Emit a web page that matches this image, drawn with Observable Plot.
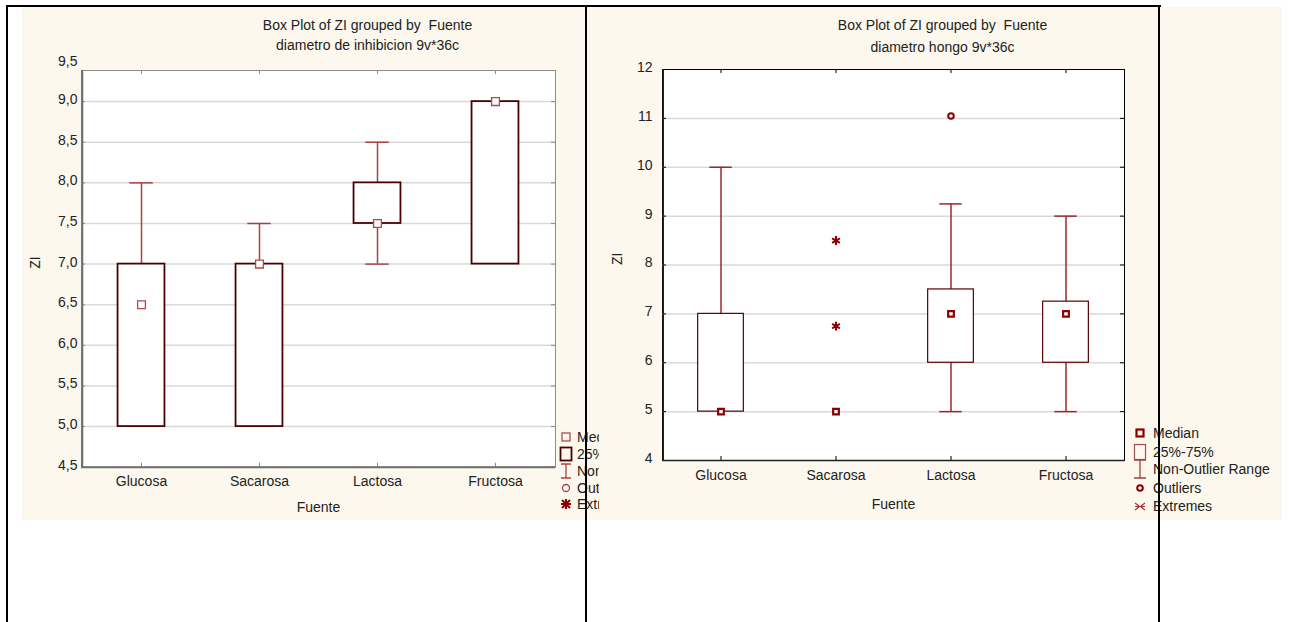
<!DOCTYPE html>
<html>
<head>
<meta charset="utf-8">
<script src="https://cdn.jsdelivr.net/npm/d3@7"></script>
<script src="https://cdn.jsdelivr.net/npm/@observablehq/plot@0.6"></script>
<style>
  body { margin: 0; background: #ffffff; }
  #root { position: relative; width: 1289px; height: 622px; overflow: hidden; font-family: "Liberation Sans", Arial, Helvetica, sans-serif; }
  .panel { position: absolute; top: 8px; height: 512px; overflow: hidden; }
  .panel svg { position: absolute; left: 0; top: 0; }
  .leg { position: absolute; font-size: 14px; color: #222; white-space: pre; line-height: 16px; }
  .legicon { position: absolute; }
  .bl { position: absolute; background: #000; z-index: 10; }
</style>
</head>
<body>
<div id="root">
  <div style="position:absolute;left:22px;top:7px;width:1260px;height:513px;background:#fdf8ed"></div>
  <div id="right" class="panel" style="left:586px;width:696px;"></div>
  <div id="left" class="panel" style="left:22px;width:577px;"></div>
  <div class="bl" style="left:6px;top:5px;width:1155px;height:2px"></div>
  <div class="bl" style="left:6px;top:5px;width:2px;height:617px"></div>
  <div class="bl" style="left:585px;top:5px;width:2px;height:617px"></div>
  <div class="bl" style="left:1158px;top:5px;width:2px;height:617px"></div>
</div>
<script>
// ---------- data ----------
const categories = ["Glucosa", "Sacarosa", "Lactosa", "Fructosa"];

// Left chart: diametro de inhibicion
const inhibMin    = [5.0, 5.0, 7.0, 7.0];
const inhibQ1     = [5.0, 5.0, 7.5, 7.0];
const inhibMedian = [6.5, 7.0, 7.5, 9.0];
const inhibQ3     = [7.0, 7.0, 8.0, 9.0];
const inhibMax    = [8.0, 7.5, 8.5, 9.0];
const inhibTicks  = [4.5, 5.0, 5.5, 6.0, 6.5, 7.0, 7.5, 8.0, 8.5, 9.0, 9.5];

// Right chart: diametro hongo
const hongoMin    = [5, 5, 5, 5];
const hongoQ1     = [5, 5, 6, 6];
const hongoMedian = [5, 5, 7, 7];
const hongoQ3     = [7, 5, 7.5, 7.25];
const hongoMax    = [10, 5, 9.25, 9];
const hongoOutlierCat = ["Lactosa"];
const hongoOutlierVal = [11.05];
const hongoExtremeCat = ["Sacarosa", "Sacarosa"];
const hongoExtremeVal = [8.5, 6.75];
const hongoTicks  = [4, 5, 6, 7, 8, 9, 10, 11, 12];

const titleMain = "Box Plot of ZI grouped by  Fuente";
const subLeft = "diametro de inhibicion 9v*36c";
const subRight = "diametro hongo 9v*36c";
const legendLabels = ["Median", "25%-75%", "Non-Outlier Range", "Outliers", "Extremes"];

// ---------- helpers ----------
const FONT = '"Liberation Sans", Arial, Helvetica, sans-serif';
const rows = (mn, q1, md, q3, mx) => categories.map((c, i) => ({cat: c, min: mn[i], q1: q1[i], med: md[i], q3: q3[i], max: mx[i]}));
const commaFmt = d => d.toFixed(1).replace(".", ",");

function boxChart(opt) {
  const plotW = opt.w - opt.ml - opt.mr;
  const plotH = opt.h - opt.mt - opt.mb;
  const band = plotW / categories.length;
  const boxInset = band * 0.3;
  const capInset = (band - opt.capW) / 2;
  const data = opt.data;
  const lo = opt.ticks[0], hi = opt.ticks[opt.ticks.length - 1];
  const inFrame = opt.ticks.filter(t => !(opt.topOutside && t === hi));
  const inner = inFrame.filter(t => t > lo && t < hi);
  const labelTicks = opt.topOutside ? inFrame : opt.ticks;
  const txt = {fontSize: 14, fill: "#222", lineAnchor: "middle"};
  const marks = [
    Plot.frame({fill: "white", stroke: opt.frameStroke, strokeWidth: 1}),
    Plot.gridY(inner, {stroke: "#d9d9d9", strokeOpacity: 1, strokeWidth: 1.5}),
    // inward tick marks
    Plot.tickX(categories, {x: d => d, insetBottom: plotH - 4, stroke: opt.frameStroke}),
    Plot.tickX(categories, {x: d => d, insetTop: plotH - 4, stroke: opt.frameStroke}),
    Plot.tickY(inFrame, {y: d => d, insetLeft: plotW - 4, stroke: opt.frameStroke}),
    Plot.tickY(inFrame, {y: d => d, insetRight: plotW - 4, stroke: opt.frameStroke}),
    // bottom and left axis lines
    Plot.ruleY([lo], {stroke: opt.axisStroke, strokeWidth: opt.axisWidth}),
    Plot.ruleX([categories[0]], {dx: -band / 2, stroke: opt.axisStroke, strokeWidth: opt.axisWidth}),
    // whiskers
    Plot.ruleX(data, {x: "cat", y1: "min", y2: "max", stroke: opt.whisker, strokeWidth: 1.5}),
    Plot.tickY(data.filter(d => d.max > d.q3), {x: "cat", y: "max", insetLeft: capInset, insetRight: capInset, stroke: opt.whisker, strokeWidth: 1.5}),
    Plot.tickY(data.filter(d => d.min < d.q1), {x: "cat", y: "min", insetLeft: capInset, insetRight: capInset, stroke: opt.whisker, strokeWidth: 1.5}),
    // boxes
    Plot.rectY(data, {x: "cat", y1: "q1", y2: "q3", fill: "white", stroke: opt.boxStroke, strokeWidth: opt.boxWidth, insetLeft: boxInset, insetRight: boxInset}),
    // medians
    Plot.dot(data, {x: "cat", y: "med", symbol: "square", r: opt.medR, fill: "white", stroke: opt.medStroke, strokeWidth: opt.medWidth}),
    ...(opt.extra || []),
    // axes
    Plot.axisY(labelTicks, {tickSize: 0, tickPadding: opt.yPad, tickFormat: opt.fmt, label: null, fontSize: 14, dy: -2}),
    Plot.axisX({tickSize: 0, tickPadding: opt.xPad, label: null, fontSize: 14}),
    // top tick label drawn at the top edge of the frame (as in the reference)
    ...(opt.topOutside ? [Plot.text([hi], {frameAnchor: "top-left", text: d => opt.fmt(d), textAnchor: "end", dx: -opt.yPad, dy: -9, ...txt})] : []),
    // axis labels & titles
    Plot.text(["ZI"], {frameAnchor: "left", rotate: -90, dx: -opt.yLabOff, ...txt}),
    Plot.text(["Fuente"], {frameAnchor: "bottom", dy: opt.xLabOff, ...txt}),
    Plot.text([titleMain], {frameAnchor: "top", dx: 49, dy: opt.t1, ...txt}),
    Plot.text([opt.sub], {frameAnchor: "top", dx: 49, dy: opt.t2, ...txt})
  ];
  const yScale = {domain: [lo, hi], label: null};
  if (opt.yRange) yScale.range = opt.yRange;
  return Plot.plot({
    width: opt.w, height: opt.h,
    marginLeft: opt.ml, marginRight: opt.mr, marginTop: opt.mt, marginBottom: opt.mb,
    x: {type: "band", domain: categories, padding: 0, label: null},
    y: yScale,
    style: {background: "transparent", fontFamily: FONT, fontSize: "14px", color: "#222", overflow: "visible"},
    marks
  });
}

// ---------- left chart ----------
const leftData = rows(inhibMin, inhibQ1, inhibMedian, inhibQ3, inhibMax);
const leftSvg = boxChart({
  w: 577, h: 512, ml: 59, mr: 44, mt: 62, mb: 53.3,
  yRange: [458.7, 52.5], topOutside: true,
  data: leftData, ticks: inhibTicks, fmt: commaFmt,
  frameStroke: "#8c8c8c", axisStroke: "#6e6e6e", axisWidth: 2,
  whisker: "#a84444", boxStroke: "#4a0000", boxWidth: 1.8,
  medR: 4.4, medStroke: "#b04a4a", medWidth: 1.3,
  capW: 24, yPad: 4, xPad: 9, yLabOff: 46, xLabOff: 40,
  t1: -45, t2: -25, sub: subLeft
});
document.getElementById("left").appendChild(leftSvg);

// ---------- right chart ----------
const rightData = rows(hongoMin, hongoQ1, hongoMedian, hongoQ3, hongoMax);
const outliers = hongoOutlierCat.map((c, i) => ({cat: c, v: hongoOutlierVal[i]}));
const extremes = hongoExtremeCat.map((c, i) => ({cat: c, v: hongoExtremeVal[i]}));
const rightSvg = boxChart({
  w: 696, h: 512, ml: 76, mr: 158, mt: 61, mb: 60,
  data: rightData, ticks: hongoTicks, fmt: d => String(d),
  frameStroke: "#000", axisStroke: "#222", axisWidth: 1.5,
  whisker: "#9c2a2a", boxStroke: "#5a0000", boxWidth: 1.2,
  medR: 3.2, medStroke: "#8b0000", medWidth: 2.2,
  capW: 23, yPad: 10, xPad: 10, yLabOff: 45, xLabOff: 44,
  t1: -44, t2: -22, sub: subRight,
  extra: [
    Plot.dot(outliers, {x: "cat", y: "v", r: 2.8, fill: "white", stroke: "#8b0000", strokeWidth: 2}),
    Plot.dot(extremes, {x: "cat", y: "v", symbol: "asterisk", r: 4.2, stroke: "#8b0000", strokeWidth: 2})
  ]
});
document.getElementById("right").appendChild(rightSvg);

// ---------- legends ----------
function addLegend(host, iconX, textX, ys, icons) {
  legendLabels.forEach((lab, i) => {
    const ic = document.createElement("div");
    ic.className = "legicon";
    ic.style.left = (iconX - 10) + "px";
    ic.style.top = (ys[i] - 10) + "px";
    ic.innerHTML = `<svg width="20" height="20" viewBox="-10 -10 20 20">${icons[i]}</svg>`;
    host.appendChild(ic);
    const t = document.createElement("div");
    t.className = "leg";
    t.style.left = textX + "px";
    t.style.top = (ys[i] - 8) + "px";
    t.textContent = lab;
    host.appendChild(t);
  });
}
const leftIcons = [
  '<rect x="-4" y="-4" width="8" height="8" fill="none" stroke="#b04a4a" stroke-width="1.3"/>',
  '<rect x="-5.5" y="-6.5" width="11" height="13" fill="none" stroke="#4a0000" stroke-width="1.8"/>',
  '<path d="M-5,-7H5M0,-7V7M-5,7H5" fill="none" stroke="#a84444" stroke-width="1.3"/>',
  '<circle r="3.5" fill="none" stroke="#a84444" stroke-width="1.3"/>',
  '<path d="M-4,-4L4,4M-4,4L4,-4M-5,0H5M0,-5V5" fill="none" stroke="#8b0000" stroke-width="2"/>'
];
const rightIcons = [
  '<rect x="-3.5" y="-3.5" width="7" height="7" fill="none" stroke="#8b0000" stroke-width="2.2"/>',
  '<rect x="-5.5" y="-7.5" width="11" height="15" fill="none" stroke="#a05050" stroke-width="1.2"/>',
  '<path d="M-6,-9H6M0,-9V9M-6,9H6" fill="none" stroke="#a04040" stroke-width="1.3"/>',
  '<circle r="2.8" fill="none" stroke="#8b0000" stroke-width="2"/>',
  '<path d="M-5,-3L-1,0M5,-3L1,0M-5,4L-1,1M5,4L1,1M-5,0.5H5" fill="none" stroke="#a03030" stroke-width="1.2"/>'
];
addLegend(document.getElementById("left"), 544, 555, [429, 446, 463, 480, 496], leftIcons);
addLegend(document.getElementById("right"), 554, 567, [425, 444, 461, 480, 498], rightIcons);
</script>
</body>
</html>
